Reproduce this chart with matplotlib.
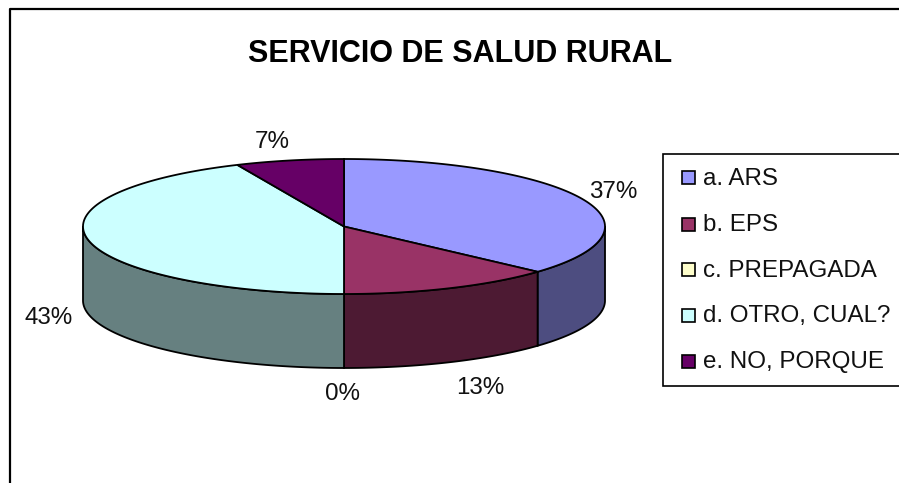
import numpy as np
import matplotlib
matplotlib.use('Agg')
import matplotlib.pyplot as plt
from matplotlib.patches import Polygon, Rectangle

labels = ['a. ARS', 'b. EPS', 'c. PREPAGADA', 'd. OTRO, CUAL?', 'e. NO, PORQUE']
values = [36.7, 13.3, 0, 43.3, 6.7]
pct_labels = ['37%', '13%', '0%', '43%', '7%']
top_colors = ['#9999FF', '#993366', '#FFFFCC', '#CCFFFF', '#660066']
side_colors = ['#4D4D80', '#4D1A33', '#808066', '#668080', '#330033']

plt.rcParams['font.family'] = ['Liberation Sans', 'DejaVu Sans']

# pie geometry in image pixels
cx, cy = 344, 226.5
rx, ry = 261, 67.5
depth = 74


def rim(a0, a1, n=120):
    # angles measured clockwise from the top of the pie
    t = np.radians(np.linspace(a0, a1, n))
    return cx + rx * np.sin(t), cy - ry * np.cos(t)


fig = plt.figure(figsize=(8.99, 4.83), dpi=100)
ax = fig.add_axes([0, 0, 1, 1])
ax.set_xlim(0, 899)
ax.set_ylim(483, 0)
ax.axis('off')

# chart frame, cut off at the bottom and right of the picture
ax.plot([10, 10, 905], [490, 8.5, 8.5], color='black', lw=1.6, solid_capstyle='butt')

angles = np.concatenate([[0], np.cumsum(values) * 3.6])

# side wall first, only the front half can be seen
for i in range(len(values)):
    a0 = max(angles[i], 90)
    a1 = min(angles[i + 1], 270)
    if a1 <= a0:
        continue
    x, y = rim(a0, a1)
    pts = np.vstack([np.column_stack([x, y]), np.column_stack([x[::-1], y[::-1] + depth])])
    ax.add_patch(Polygon(pts, closed=True, facecolor=side_colors[i], edgecolor='black', lw=1.3))

# top surface
for i in range(len(values)):
    if values[i] == 0:
        continue
    x, y = rim(angles[i], angles[i + 1])
    pts = np.vstack([[cx, cy], np.column_stack([x, y])])
    ax.add_patch(Polygon(pts, closed=True, facecolor=top_colors[i], edgecolor='black', lw=1.3))

ax.text(460, 54, 'SERVICIO DE SALUD RURAL', fontsize=22, fontweight='bold',
        ha='center', va='center', color='black')

label_pos = [(613, 191.5), (480, 387.5), (343, 393.5), (49, 317.5), (272, 142.5)]
for txt, (px, py) in zip(pct_labels, label_pos):
    ax.text(px, py, txt, fontsize=17.4, ha='center', va='center', color='#111111')

# legend box
ax.add_patch(Rectangle((663, 154), 245, 232, facecolor='white', edgecolor='black', lw=1.2))
leg_y = [177.5, 224, 269.5, 315, 361]
for lab, col, ly in zip(labels, top_colors, leg_y):
    ax.add_patch(Rectangle((682, ly - 6.5), 13, 13, facecolor=col, edgecolor='black', lw=1.2))
    ax.text(703, ly + 1.2, lab, fontsize=17.4, ha='left', va='center', color='#111111')

fig.savefig('out.png', dpi=100)
